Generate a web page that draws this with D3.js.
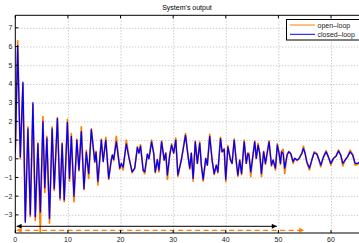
<!DOCTYPE html>
<html>
<head>
<meta charset="utf-8">
<script src="https://cdn.jsdelivr.net/npm/d3@7"></script>
<style>
body { margin: 0; background: #fff; }
svg { display: block; font-family: "Liberation Sans", Arial, sans-serif; }
</style>
</head>
<body>
<svg id="chart" width="359" height="243"></svg>
<script>
// samples (time in s)
const time = [
    0, 0.45, 0.95, 1.45, 1.9, 2.4, 2.85, 3.35, 3.8, 4.3, 4.75, 5.25, 5.6, 6.0, 6.5, 7.0, 7.4, 8.0, 8.5, 8.9, 9.3, 9.9,
    10.3, 10.65, 11.15, 11.7, 12.1, 12.55, 13.05, 13.5, 13.95, 14.45, 15.1, 15.35, 15.7, 16.35, 16.7, 17.2, 17.75, 18.25, 18.45, 18.7, 19.2, 19.85, 20.15, 20.5, 21.1, 21.6,
    22.2, 22.7, 23.2, 23.5, 23.8, 24.3, 24.6, 25.1, 25.4, 25.9, 26.3, 26.6, 27.0, 27.3, 27.8, 28.3, 28.6, 28.9, 29.35, 29.7, 30.1, 30.5, 30.9, 31.6, 32.35, 32.85,
    33.15, 33.45, 33.8, 34.2, 34.6, 35.05, 35.36, 35.7, 36.2, 36.5, 36.95, 37.4, 37.8, 38.2, 38.5, 39.0, 39.3, 39.7, 40.0, 40.4, 40.9, 41.2, 41.6, 42.0, 42.3, 42.65, 43.0, 43.5, 43.9, 44.2,
    44.4, 44.75, 45.06, 45.5, 45.8, 46.14, 46.46, 46.78, 47.2, 47.54, 47.85, 48.23, 48.68, 49.0, 49.44, 49.8, 50.13, 50.39, 50.6, 50.9, 51.2, 51.65, 51.97, 52.35, 52.8, 53.1, 53.55, 53.9,
    54.45, 54.76, 55.08, 55.4, 55.9, 56.35, 56.8, 57.3, 57.74, 58.06, 58.57, 59.07, 59.5, 59.96, 60.47, 60.97, 61.42, 61.86, 62.24, 62.68, 63.13, 63.64, 64.14, 64.59, 65.03, 65.5
];

const closedLoop = [
    0.3, 6.05, 0.1, 4.1, -3.4, 1.6, -3.0, 3.0, -3.1, 0.8, -2.85, 2.0, -1.55, 1.1, -3.2, 1.6, -1.6, 2.15, -2.1, 0.8, -2.2, 1.95,
    -1.05, 1.2, -2.0, 1.0, -0.6, 1.45, -1.6, 0.35, -0.8, 1.55, -0.15, 0.35, -1.2, 1.0, -0.15, 1.0, -1.05, -0.05, 0.2, -0.05, 0.9, -0.5, -0.25, -0.45, 0.8, 0.05,
    -0.7, -0.5, 0.6, 0.3, 0.67, -0.6, -0.7, 0.25, 0.0, 0.9, 0.3, -0.7, -0.05, -0.6, 0.9, -0.07, 0.3, -0.87, 0.2, 0.73, 0.3, 1.0, -0.87, 0.0, 1.25, 0.1,
    -0.5, 0.3, -1.05, 0.9, -0.25, 0.82, -0.34, -1.1, 0.02, -0.34, 1.2, -0.07, -0.79, -0.34, -0.7, 1.08, 0.37, 0.5, -1.1, 0.64, -0.07, -0.25, 1.0, -0.16, -0.88, -0.07, -0.79, 0.9, -0.25, 0.28,
    0.2, -0.7, -0.05, 0.9, 0.02, 0.73, 0.28, -0.79, 0.37, -0.25, 0.28, 0.9, -0.34, -0.07, -0.5, 0.73, 0.28, -0.25, 0.37, 0.28, -0.5, 0.2, 0.37, 0.28, -0.16, 0.02, -0.07, 0.0,
    0.28, 0.55, 0.28, -0.16, -0.5, -0.07, 0.32, 0.25, -0.07, -0.34, 0.1, 0.37, 0.1, -0.25, 0.02, 0.14, 0.42, 0.19, -0.25, -0.07, 0.1, 0.37, 0.19, -0.25, -0.25, -0.16
];

const openLoop = [
    0.5, 6.3, 0.0, 4.0, -3.3, 1.7, -3.1, 2.9, -3.3, 0.85, -3.9, 2.25, -1.8, 1.2, -3.45, 1.7, -1.7, 2.2, -2.2, 0.85, -2.3, 2.1,
    -1.2, 1.35, -2.3, 1.05, -0.65, 1.7, -1.65, 0.45, -1.05, 1.6, -0.2, 0.4, -1.4, 1.05, -0.15, 1.15, -1.1, -0.05, 0.2, -0.1, 1.2, -0.55, -0.25, -0.6, 1.0, 0.1,
    -0.75, -0.5, 0.65, 0.3, 0.75, -0.65, -0.8, 0.25, 0.0, 1.0, 0.3, -0.75, -0.05, -0.7, 0.95, -0.07, 0.3, -1.1, 0.2, 0.8, 0.3, 1.1, -0.95, 0.0, 1.35, 0.1,
    -0.55, 0.3, -1.2, 0.95, -0.25, 0.9, -0.34, -1.2, 0.02, -0.34, 1.3, -0.07, -0.85, -0.34, -0.75, 1.15, 0.37, 0.55, -1.23, 0.7, -0.07, -0.25, 1.05, -0.16, -0.95, -0.07, -0.85, 1.0, -0.25, 0.3,
    0.3, -0.96, -0.05, 0.95, 0.02, 0.82, 0.28, -0.96, 0.4, -0.3, 0.28, 0.96, -0.4, -0.07, -0.6, 0.8, 0.28, -0.3, 0.4, 0.5, -0.79, 0.2, 0.4, 0.28, -0.25, 0.02, -0.1, 0.0,
    0.3, 0.67, 0.3, -0.2, -0.6, -0.07, 0.37, 0.28, -0.1, -0.43, 0.1, 0.43, 0.1, -0.34, 0.02, 0.16, 0.46, 0.2, -0.38, -0.07, 0.1, 0.46, 0.2, -0.34, -0.3, -0.2
];

const xTicks = [0, 10, 20, 30, 40, 50, 60];
const yTicks = [-3, -2, -1, 0, 1, 2, 3, 4, 5, 6, 7];
const seriesNames = ["open\u2013loop", "closed\u2013loop"];
// durations marked by the arrows under the curves
const spanStart = [0.25, 0.25];
const spanEnd = [49.7, 54.9];

const svg = d3.select("#chart");
const margin = { top: 15.3, left: 15.3, bottom: 10 };
const W = 359, H = 243;
const plotRight = 361;

const x = d3.scaleLinear().domain([0, 65.7]).range([margin.left, plotRight]);
const y = d3.scaleLinear().domain([-3.97, 7.67]).range([H - margin.bottom, margin.top]);

const orange = "#ff7f00", blue = "#0000ff";
const yBottom = y.range()[0], yTop = y.range()[1];

svg.append("text")
    .attr("x", 187).attr("y", 9.5)
    .attr("text-anchor", "middle")
    .attr("font-size", 7)
    .text("System's output");

// dotted grid
const grid = svg.append("g")
    .attr("stroke", "#999").attr("stroke-width", 0.7)
    .attr("stroke-dasharray", "1,2");
grid.selectAll(".gx").data(xTicks.filter(d => d > 0)).enter().append("line")
    .attr("x1", d => x(d) + 0.5).attr("x2", d => x(d) + 0.5)
    .attr("y1", yTop).attr("y2", yBottom);
grid.selectAll(".gy").data(yTicks).enter().append("line")
    .attr("x1", x(0)).attr("x2", plotRight)
    .attr("y1", d => y(d) + 0.5).attr("y2", d => y(d) + 0.5);

svg.append("clipPath").attr("id", "clip")
    .append("rect").attr("x", x(0)).attr("y", yTop)
    .attr("width", plotRight - x(0)).attr("height", yBottom - yTop);

const line = d3.line().x(d => x(d[0])).y(d => y(d[1]));
const plot = svg.append("g").attr("clip-path", "url(#clip)");

plot.append("path")
    .datum(time.map((t, i) => [t, openLoop[i]]))
    .attr("fill", "none").attr("stroke", orange)
    .attr("stroke-width", 1.7).attr("stroke-linejoin", "round")
    .attr("d", line);

plot.append("path")
    .datum(time.map((t, i) => [t, closedLoop[i]]))
    .attr("fill", "none").attr("stroke", blue)
    .attr("stroke-width", 1.3).attr("stroke-linejoin", "round")
    .attr("d", line);

// arrows
const defs = svg.append("defs");
[["ab", "#000"], ["ao", orange]].forEach(([id, c]) => {
    defs.append("marker").attr("id", id)
        .attr("viewBox", "0 0 10 10").attr("refX", 10).attr("refY", 5)
        .attr("markerWidth", 6).attr("markerHeight", 5)
        .attr("markerUnits", "userSpaceOnUse")
        .attr("orient", "auto-start-reverse")
        .append("path").attr("d", "M0,0L10,5L0,10z").attr("fill", c);
});
const arrowY = [yBottom - 6.7, yBottom - 2.7];
svg.append("line")
    .attr("x1", x(spanStart[0])).attr("x2", x(spanEnd[0]))
    .attr("y1", arrowY[0]).attr("y2", arrowY[0])
    .attr("stroke", "#000").attr("stroke-width", 1)
    .attr("marker-start", "url(#ab)").attr("marker-end", "url(#ab)");
svg.append("line")
    .attr("x1", x(spanStart[1])).attr("x2", x(spanEnd[1]))
    .attr("y1", arrowY[1]).attr("y2", arrowY[1])
    .attr("stroke", orange).attr("stroke-width", 1.2)
    .attr("stroke-dasharray", "5,3.5")
    .attr("marker-start", "url(#ao)").attr("marker-end", "url(#ao)");

// frame and ticks
const frame = svg.append("g").attr("stroke", "#000").attr("stroke-width", 1);
frame.append("line").attr("x1", x(0)).attr("x2", plotRight).attr("y1", yTop).attr("y2", yTop);
frame.append("line").attr("x1", x(0)).attr("x2", plotRight).attr("y1", yBottom).attr("y2", yBottom);
frame.append("line").attr("x1", x(0)).attr("x2", x(0)).attr("y1", yTop).attr("y2", yBottom);
xTicks.forEach(d => {
    frame.append("line").attr("x1", x(d)).attr("x2", x(d)).attr("y1", yTop).attr("y2", yTop + 3);
    frame.append("line").attr("x1", x(d)).attr("x2", x(d)).attr("y1", yBottom).attr("y2", yBottom - 3);
});
yTicks.forEach(d => {
    frame.append("line").attr("x1", x(0)).attr("x2", x(0) + 3).attr("y1", y(d)).attr("y2", y(d));
});

const fmt = d => d < 0 ? "\u2212" + Math.abs(d) : String(d);
svg.append("g").attr("font-size", 7).attr("fill", "#222").attr("text-anchor", "end")
    .selectAll("text").data(yTicks).enter().append("text")
    .attr("x", x(0) - 3).attr("y", d => y(d) + 2.5)
    .text(fmt);
svg.append("g").attr("font-size", 7).attr("fill", "#222").attr("text-anchor", "middle")
    .selectAll("text").data(xTicks).enter().append("text")
    .attr("x", d => x(d)).attr("y", yBottom + 8.5)
    .text(fmt);

// legend
const lg = svg.append("g");
lg.append("rect").attr("x", 286.5).attr("y", 19.5).attr("width", 80).attr("height", 20.5)
    .attr("fill", "#fff").attr("stroke", "#000").attr("stroke-width", 1);
[orange, blue].forEach((c, i) => {
    const ly = 25 + i * 9.3;
    lg.append("line").attr("x1", 290).attr("x2", 315).attr("y1", ly).attr("y2", ly)
        .attr("stroke", c).attr("stroke-width", 1);
    lg.append("text").attr("x", 317.5).attr("y", ly + 2.5)
        .attr("font-size", 7).attr("fill", "#222").text(seriesNames[i]);
});
</script>
</body>
</html>
